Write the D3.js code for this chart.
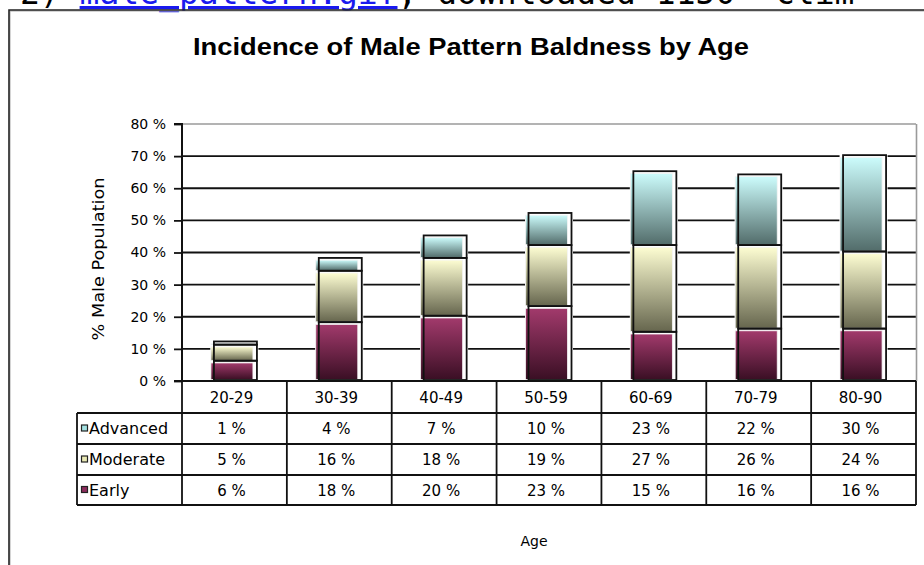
<!DOCTYPE html>
<html><head><meta charset="utf-8">
<script src="https://cdn.jsdelivr.net/npm/d3@7"></script>
<style>body{margin:0;background:#fff;}svg{display:block;}</style>
</head><body>
<script>
// ---- data ----
const categories = ["20-29","30-39","40-49","50-59","60-69","70-79","80-90"];
const early    = [6, 18, 20, 23, 15, 16, 16];
const moderate = [5, 16, 18, 19, 27, 26, 24];
const advanced = [1, 4, 7, 10, 23, 22, 30];
const seriesNames = ["Advanced", "Moderate", "Early"];
const yTickValues = [0, 10, 20, 30, 40, 50, 60, 70, 80];
const chartTitle = "Incidence of Male Pattern Baldness by Age";
const yTitle = "% Male Population";
const xTitle = "Age";

// ---- layout ----
const W = 924, H = 565;
const font = "'DejaVu Sans', sans-serif";
const svg = d3.select("body").append("svg").attr("width", W).attr("height", H);

const seriesValues = {Early: early, Moderate: moderate, Advanced: advanced};
const rows = categories.map((c, i) => ({cat: c, Early: early[i], Moderate: moderate[i], Advanced: advanced[i]}));
const stack = d3.stack().keys(["Early", "Moderate", "Advanced"])(rows);

const x = d3.scaleBand().domain(categories).range([182, 916]).padding(0);
const y = d3.scaleLinear().domain([0, 80]).range([381, 124]);

const grad = {
  Early: ["#a23a6c", "#3a0f24"],
  Moderate: ["#fdfdd2", "#66664e"],
  Advanced: ["#ccfcfc", "#526c6a"]
};
const keyFill = {Early: "#8c2c5c", Moderate: "#e9e9b4", Advanced: "#a4e2e2"};

const defs = svg.append("defs");
Object.entries(grad).forEach(([k, [c0, c1]]) => {
  const g = defs.append("linearGradient").attr("id", "g" + k)
    .attr("x1", 0).attr("y1", 0).attr("x2", 0).attr("y2", 1);
  g.append("stop").attr("offset", "0%").attr("stop-color", c0);
  g.append("stop").attr("offset", "100%").attr("stop-color", c1);
});

// ---- top clipped text line ----
const topText = svg.append("text").attr("x", 20).attr("y", 4)
  .attr("font-family", "'DejaVu Sans Mono', monospace").attr("font-size", 33);
topText.append("tspan").attr("fill", "#000").text("2) ");
topText.append("tspan").attr("fill", "#1a1aee").attr("text-decoration", "underline").text("male_pattern.gif");
topText.append("tspan").attr("fill", "#000").text(", downloaded 1150 'clim");

// ---- frame ----
svg.append("path").attr("d", `M10,${H} V11 H${W}`).attr("fill", "none").attr("stroke", "#aaa").attr("stroke-width", 1);
svg.append("path").attr("d", `M9,${H} V10 H${W}`).attr("fill", "none").attr("stroke", "#222").attr("stroke-width", 1.6);

// ---- title ----
svg.append("text").attr("x", 471).attr("y", 55).attr("text-anchor", "middle")
  .attr("font-family", "'Liberation Sans', Arial, sans-serif").attr("font-weight", "bold").attr("font-size", 23)
  .attr("textLength", 556).attr("lengthAdjust", "spacingAndGlyphs")
  .attr("fill", "#000").text(chartTitle);

// ---- gridlines ----
svg.append("g").selectAll("line").data(yTickValues.filter(v => v > 0 && v < 80)).join("line")
  .attr("x1", 182).attr("x2", 916).attr("y1", d => y(d)).attr("y2", d => y(d))
  .attr("stroke", "#111").attr("stroke-width", 1.8);
svg.append("line").attr("x1", 182).attr("x2", 916).attr("y1", y(80)).attr("y2", y(80))
  .attr("stroke", "#9a9a9a").attr("stroke-width", 1.6);
svg.append("line").attr("x1", 916.5).attr("x2", 916.5).attr("y1", y(80)).attr("y2", y(0))
  .attr("stroke", "#9a9a9a").attr("stroke-width", 1.6);

// ---- bars ----
const bw = 43;
const cx = c => x(c) + x.bandwidth() / 2;
const barG = svg.append("g");
barG.selectAll("rect.back").data(rows).join("rect").attr("class", "back")
  .attr("x", d => cx(d.cat) - 24).attr("width", bw + 5)
  .attr("y", d => y(d.Early + d.Moderate + d.Advanced) - 2)
  .attr("height", d => y(0) - y(d.Early + d.Moderate + d.Advanced) + 1)
  .attr("fill", "#fff");
stack.forEach(s => {
  barG.selectAll("rect.f" + s.key).data(s).join("rect").attr("class", "f" + s.key)
    .attr("x", d => cx(d.data.cat) - bw / 2 - 2)
    .attr("width", bw - 1)
    .attr("y", d => y(d[1]) + 1.2)
    .attr("height", d => Math.max(0, y(d[0]) - y(d[1]) - 2.6))
    .attr("fill", `url(#g${s.key})`)
    .attr("stroke", "#f4f4f4").attr("stroke-width", 0.8);
});
stack.forEach(s => {
  barG.selectAll("rect.o" + s.key).data(s).join("rect").attr("class", "o" + s.key)
    .attr("x", d => cx(d.data.cat) - bw / 2 + 1)
    .attr("width", bw)
    .attr("y", d => y(d[1]) - 1)
    .attr("height", d => y(d[0]) - y(d[1]))
    .attr("fill", "none").attr("stroke", "#111").attr("stroke-width", 1.8);
});

// ---- y axis ----
const yAxis = d3.axisLeft(y).tickValues(yTickValues).tickFormat(d => d + " %").tickSize(8).tickPadding(8);
const ya = svg.append("g").attr("transform", "translate(182,0)").call(yAxis);
ya.select(".domain").attr("stroke", "#111").attr("stroke-width", 2).attr("d", `M-8,${y(80)}H0V${y(0)}`);
ya.selectAll(".tick line").attr("stroke", "#111").attr("stroke-width", 1.8);
ya.selectAll(".tick text").attr("font-family", font).attr("font-size", 14).attr("fill", "#000");

svg.append("text").attr("transform", `translate(104,259) rotate(-90)`)
  .attr("text-anchor", "middle").attr("font-family", font).attr("font-size", 15)
  .attr("textLength", 163).attr("lengthAdjust", "spacingAndGlyphs")
  .attr("fill", "#000").text(yTitle);

// ---- data table ----
const tbl = svg.append("g");
const rowTop = [381, 413, 444, 475, 505];
const tblLeft = 77, tblRight = 916;
const tcol = "#111";
tbl.append("line").attr("x1", 174).attr("x2", tblRight).attr("y1", rowTop[0]).attr("y2", rowTop[0])
  .attr("stroke", tcol).attr("stroke-width", 2);
rowTop.slice(1).forEach(yy => {
  tbl.append("line").attr("x1", tblLeft).attr("x2", tblRight).attr("y1", yy).attr("y2", yy)
    .attr("stroke", tcol).attr("stroke-width", 1.8);
});
const bounds = categories.map(c => x(c)).concat([x.range()[1]]);
bounds.forEach(bx => {
  tbl.append("line").attr("x1", bx).attr("x2", bx).attr("y1", rowTop[0]).attr("y2", rowTop[4])
    .attr("stroke", tcol).attr("stroke-width", 1.8);
});
tbl.append("line").attr("x1", tblLeft).attr("x2", tblLeft).attr("y1", rowTop[1]).attr("y2", rowTop[4])
  .attr("stroke", tcol).attr("stroke-width", 1.8);
tbl.selectAll("text.hdr").data(categories).join("text").attr("class", "hdr")
  .attr("x", d => cx(d) - 3).attr("y", (rowTop[0] + rowTop[1]) / 2 + 5.5)
  .attr("text-anchor", "middle").attr("font-family", font).attr("font-size", 15)
  .attr("fill", "#000").text(d => d);
seriesNames.forEach((name, r) => {
  const yc = (rowTop[r + 1] + rowTop[r + 2]) / 2;
  tbl.append("rect").attr("x", 81.5).attr("y", yc - 3.5).attr("width", 6).attr("height", 6)
    .attr("fill", keyFill[name]).attr("stroke", "#222").attr("stroke-width", 1.2);
  tbl.append("text").attr("x", 89).attr("y", yc + 5.5).attr("font-family", font)
    .attr("font-size", 16).attr("fill", "#000").text(name);
  tbl.selectAll("text.v" + name).data(seriesValues[name]).join("text").attr("class", "v" + name)
    .attr("x", (d, i) => cx(categories[i]) - 3).attr("y", yc + 5.5)
    .attr("text-anchor", "middle").attr("font-family", font).attr("font-size", 15)
    .attr("fill", "#000").text(d => d + " %");
});

// ---- x title ----
svg.append("text").attr("x", 534).attr("y", 546).attr("text-anchor", "middle")
  .attr("font-family", font).attr("font-size", 14).attr("fill", "#000").text(xTitle);
</script>
</body></html>
